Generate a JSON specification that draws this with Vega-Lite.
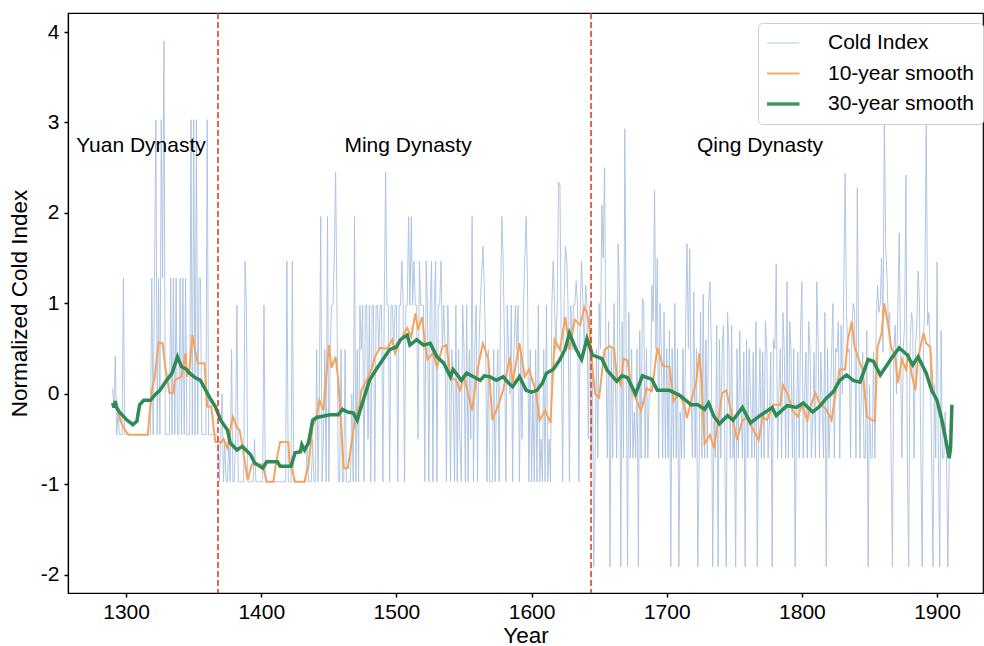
{
"$schema":"https://vega.github.io/schema/vega-lite/v6.json",
"width":915,"height":580,
"autosize":"none",
"padding":{"left":68,"top":13,"right":1,"bottom":53},
"background":"white",
"config":{"view":{"stroke":"black","strokeWidth":1.2},
"font":"Liberation Sans",
"axis":{"grid":false,"domainColor":"black","domainWidth":1.2,"tickColor":"black","tickSize":4,"tickWidth":1.5,"labelFontSize":21,"labelColor":"black","titleFontSize":22.5,"titleFontWeight":"normal","titleColor":"black","labelFont":"Liberation Sans","titleFont":"Liberation Sans"},
"legend":{"labelFont":"Liberation Sans","labelFontSize":21,"labelColor":"black"}},
"datasets":{
"raw":[
{"x":1290,"y":0.06},{"x":1291,"y":-0.15},{"x":1292,"y":0.42},{"x":1293,"y":-0.45},{"x":1294,"y":-0.2},{"x":1295,"y":-0.45},{"x":1296,"y":-0.45},{"x":1297,"y":-0.45},{"x":1298,"y":1.28},{"x":1299,"y":-0.45},
{"x":1300,"y":-0.45},{"x":1301,"y":-0.45},{"x":1302,"y":-0.45},{"x":1303,"y":-0.45},{"x":1304,"y":-0.45},{"x":1305,"y":-0.45},{"x":1306,"y":-0.45},{"x":1307,"y":-0.45},{"x":1308,"y":-0.45},{"x":1309,"y":-0.45},
{"x":1310,"y":-0.45},{"x":1311,"y":-0.45},{"x":1312,"y":-0.45},{"x":1313,"y":-0.45},{"x":1314,"y":-0.45},{"x":1315,"y":-0.45},{"x":1316,"y":-0.45},{"x":1317,"y":-0.45},{"x":1318,"y":-0.45},{"x":1319,"y":1.28},
{"x":1320,"y":-0.45},{"x":1321,"y":1.28},{"x":1322,"y":3.03},{"x":1323,"y":-0.45},{"x":1324,"y":1.28},{"x":1325,"y":-0.45},{"x":1326,"y":3.03},{"x":1327,"y":1.28},{"x":1328,"y":3.9},{"x":1329,"y":-0.45},
{"x":1330,"y":-0.45},{"x":1331,"y":-0.45},{"x":1332,"y":-0.45},{"x":1333,"y":1.28},{"x":1334,"y":-0.45},{"x":1335,"y":1.28},{"x":1336,"y":-0.45},{"x":1337,"y":1.28},{"x":1338,"y":-0.45},{"x":1339,"y":-0.45},
{"x":1340,"y":1.28},{"x":1341,"y":-0.45},{"x":1342,"y":1.28},{"x":1343,"y":-0.45},{"x":1344,"y":1.28},{"x":1345,"y":-0.45},{"x":1346,"y":-0.45},{"x":1347,"y":-0.45},{"x":1348,"y":3.03},{"x":1349,"y":-0.45},
{"x":1350,"y":3.03},{"x":1351,"y":-0.45},{"x":1352,"y":3.03},{"x":1353,"y":-0.45},{"x":1354,"y":1.28},{"x":1355,"y":1.28},{"x":1356,"y":-0.45},{"x":1357,"y":-0.45},{"x":1358,"y":-0.45},{"x":1359,"y":-0.45},
{"x":1360,"y":3.03},{"x":1361,"y":-0.45},{"x":1362,"y":-0.45},{"x":1363,"y":-0.45},{"x":1364,"y":-0.45},{"x":1365,"y":-0.45},{"x":1366,"y":-0.45},{"x":1367,"y":-0.45},
{"x":1368,"y":-0.5},{"x":1369,"y":-0.97},
{"x":1370,"y":-0.5},{"x":1371,"y":0.0},{"x":1372,"y":-0.97},{"x":1373,"y":-0.5},{"x":1374,"y":-0.97},{"x":1375,"y":-0.97},{"x":1376,"y":-0.5},{"x":1377,"y":-0.97},{"x":1378,"y":0.49},{"x":1379,"y":-0.97},
{"x":1380,"y":-0.97},{"x":1381,"y":-0.5},{"x":1382,"y":0.98},{"x":1383,"y":-0.97},{"x":1384,"y":-0.97},{"x":1385,"y":-0.97},{"x":1386,"y":-0.97},{"x":1387,"y":-0.97},{"x":1388,"y":1.47},{"x":1389,"y":0.98},
{"x":1390,"y":-0.97},{"x":1391,"y":-0.97},{"x":1392,"y":-0.97},{"x":1393,"y":-0.97},{"x":1394,"y":-0.97},{"x":1395,"y":-0.5},{"x":1396,"y":-0.97},{"x":1397,"y":-0.97},{"x":1398,"y":-0.97},{"x":1399,"y":-0.97},
{"x":1400,"y":-0.97},{"x":1401,"y":-0.97},{"x":1402,"y":0.98},{"x":1403,"y":-0.97},{"x":1404,"y":-0.97},{"x":1405,"y":-0.97},{"x":1406,"y":-0.97},{"x":1407,"y":-0.97},{"x":1408,"y":-0.97},{"x":1409,"y":-0.97},
{"x":1410,"y":-0.97},{"x":1411,"y":-0.97},{"x":1412,"y":-0.97},{"x":1413,"y":-0.97},{"x":1414,"y":-0.97},{"x":1415,"y":-0.97},{"x":1416,"y":-0.97},{"x":1417,"y":-0.97},{"x":1418,"y":-0.97},{"x":1419,"y":1.47},
{"x":1420,"y":-0.97},{"x":1421,"y":-0.97},{"x":1422,"y":-0.97},{"x":1423,"y":1.47},{"x":1424,"y":-0.97},{"x":1425,"y":-0.97},{"x":1426,"y":-0.97},{"x":1427,"y":-0.97},{"x":1428,"y":-0.97},{"x":1429,"y":-0.97},
{"x":1430,"y":-0.97},{"x":1431,"y":-0.97},{"x":1432,"y":-0.97},{"x":1433,"y":-0.97},{"x":1434,"y":-0.5},{"x":1435,"y":-0.97},{"x":1436,"y":-0.97},{"x":1437,"y":-0.97},{"x":1438,"y":-0.5},{"x":1439,"y":-0.97},
{"x":1440,"y":-0.97},{"x":1441,"y":0.49},{"x":1442,"y":-0.97},{"x":1443,"y":0.0},{"x":1444,"y":1.96},{"x":1445,"y":-0.97},{"x":1446,"y":-0.5},{"x":1447,"y":0.49},{"x":1448,"y":-0.97},{"x":1449,"y":1.96},
{"x":1450,"y":-0.97},{"x":1451,"y":0.49},{"x":1452,"y":0.98},{"x":1453,"y":0.98},{"x":1454,"y":1.47},{"x":1455,"y":2.45},{"x":1456,"y":0.98},{"x":1457,"y":-0.97},{"x":1458,"y":-0.97},{"x":1459,"y":0.49},
{"x":1460,"y":-0.97},{"x":1461,"y":-0.97},{"x":1462,"y":0.49},{"x":1463,"y":-0.97},{"x":1464,"y":-0.97},{"x":1465,"y":-0.97},{"x":1466,"y":-0.97},{"x":1467,"y":0.0},{"x":1468,"y":-0.97},{"x":1469,"y":1.96},
{"x":1470,"y":-0.97},{"x":1471,"y":0.49},{"x":1472,"y":-0.97},{"x":1473,"y":0.98},{"x":1474,"y":0.49},{"x":1475,"y":0.98},{"x":1476,"y":-0.97},{"x":1477,"y":0.98},{"x":1478,"y":0.98},{"x":1479,"y":-0.5},
{"x":1480,"y":0.98},{"x":1481,"y":-0.97},{"x":1482,"y":0.98},{"x":1483,"y":0.98},{"x":1484,"y":-0.97},{"x":1485,"y":0.98},{"x":1486,"y":0.98},{"x":1487,"y":0.49},{"x":1488,"y":0.98},{"x":1489,"y":0.98},
{"x":1490,"y":-0.97},{"x":1491,"y":0.98},{"x":1492,"y":2.45},{"x":1493,"y":0.98},{"x":1494,"y":0.98},{"x":1495,"y":-0.97},{"x":1496,"y":0.98},{"x":1497,"y":0.98},{"x":1498,"y":0.49},{"x":1499,"y":0.98},
{"x":1500,"y":0.98},{"x":1501,"y":-0.97},{"x":1502,"y":0.98},{"x":1503,"y":0.98},{"x":1504,"y":1.47},{"x":1505,"y":0.98},{"x":1506,"y":-0.97},{"x":1507,"y":0.98},{"x":1508,"y":0.98},{"x":1509,"y":1.96},
{"x":1510,"y":0.98},{"x":1511,"y":1.96},{"x":1512,"y":0.98},{"x":1513,"y":1.47},{"x":1514,"y":0.98},{"x":1515,"y":0.98},{"x":1516,"y":-0.5},{"x":1517,"y":1.47},{"x":1518,"y":0.98},{"x":1519,"y":0.98},
{"x":1520,"y":0.98},{"x":1521,"y":-0.97},{"x":1522,"y":1.47},{"x":1523,"y":0.98},{"x":1524,"y":-0.97},{"x":1525,"y":0.98},{"x":1526,"y":1.47},{"x":1527,"y":-0.97},{"x":1528,"y":0.98},{"x":1529,"y":1.47},
{"x":1530,"y":-0.97},{"x":1531,"y":0.98},{"x":1532,"y":0.98},{"x":1533,"y":1.47},{"x":1534,"y":0.49},{"x":1535,"y":0.98},{"x":1536,"y":0.49},{"x":1537,"y":-0.97},{"x":1538,"y":0.98},{"x":1539,"y":0.49},
{"x":1540,"y":-0.97},{"x":1541,"y":0.49},{"x":1542,"y":0.0},{"x":1543,"y":-0.97},{"x":1544,"y":0.98},{"x":1545,"y":-0.97},{"x":1546,"y":0.49},{"x":1547,"y":-0.5},{"x":1548,"y":-0.97},{"x":1549,"y":0.98},
{"x":1550,"y":0.49},{"x":1551,"y":-0.97},{"x":1552,"y":0.98},{"x":1553,"y":-0.97},{"x":1554,"y":0.49},{"x":1555,"y":-0.5},{"x":1556,"y":1.96},{"x":1557,"y":-0.97},{"x":1558,"y":0.49},{"x":1559,"y":0.98},
{"x":1560,"y":-0.97},{"x":1561,"y":0.49},{"x":1562,"y":0.98},{"x":1563,"y":1.3},{"x":1564,"y":1.63},{"x":1565,"y":1.2},{"x":1566,"y":0.49},{"x":1567,"y":-0.97},{"x":1568,"y":0.49},{"x":1569,"y":-0.97},
{"x":1570,"y":-0.97},{"x":1571,"y":-0.97},{"x":1572,"y":0.49},{"x":1573,"y":-0.97},{"x":1574,"y":0.0},{"x":1575,"y":0.49},{"x":1576,"y":-0.97},{"x":1577,"y":0.98},{"x":1578,"y":1.96},{"x":1579,"y":1.47},
{"x":1580,"y":0.49},{"x":1581,"y":-0.97},{"x":1582,"y":0.98},{"x":1583,"y":0.49},{"x":1584,"y":0.0},{"x":1585,"y":0.98},{"x":1586,"y":-0.97},{"x":1587,"y":0.49},{"x":1588,"y":0.98},{"x":1589,"y":0.49},
{"x":1590,"y":0.98},{"x":1591,"y":-0.97},{"x":1592,"y":0.49},{"x":1593,"y":-0.5},{"x":1594,"y":0.98},{"x":1595,"y":1.5},{"x":1596,"y":1.96},{"x":1597,"y":1.2},{"x":1598,"y":-0.97},{"x":1599,"y":0.49},
{"x":1600,"y":-0.97},{"x":1601,"y":0.0},{"x":1602,"y":-0.97},{"x":1603,"y":0.49},{"x":1604,"y":-0.97},{"x":1605,"y":0.98},{"x":1606,"y":-0.97},{"x":1607,"y":-0.5},{"x":1608,"y":-0.97},{"x":1609,"y":0.49},
{"x":1610,"y":-0.97},{"x":1611,"y":0.98},{"x":1612,"y":-0.97},{"x":1613,"y":-0.5},{"x":1614,"y":-0.97},{"x":1615,"y":0.98},{"x":1616,"y":1.47},{"x":1617,"y":0.98},{"x":1618,"y":0.49},{"x":1619,"y":0.98},
{"x":1620,"y":2.34},{"x":1621,"y":2.3},{"x":1622,"y":0.49},{"x":1623,"y":-0.97},{"x":1624,"y":0.98},{"x":1625,"y":1.63},{"x":1626,"y":1.5},{"x":1627,"y":0.98},{"x":1628,"y":-0.97},{"x":1629,"y":0.98},
{"x":1630,"y":0.49},{"x":1631,"y":0.98},{"x":1632,"y":0.98},{"x":1633,"y":1.25},{"x":1634,"y":0.98},{"x":1635,"y":-0.97},{"x":1636,"y":0.98},{"x":1637,"y":1.47},{"x":1638,"y":0.98},{"x":1639,"y":0.49},
{"x":1640,"y":1.2},{"x":1641,"y":0.98},{"x":1642,"y":-0.5},{"x":1643,"y":0.98},
{"x":1644,"y":-0.71},{"x":1645,"y":0.5},{"x":1646,"y":-1.91},{"x":1647,"y":-0.71},{"x":1648,"y":0.5},{"x":1649,"y":-0.71},
{"x":1650,"y":1.0},{"x":1651,"y":0.5},{"x":1652,"y":2.09},{"x":1653,"y":1.5},{"x":1654,"y":2.5},{"x":1655,"y":0.5},{"x":1656,"y":-0.71},{"x":1657,"y":0.8},{"x":1658,"y":-1.91},{"x":1659,"y":0.5},
{"x":1660,"y":-0.71},{"x":1661,"y":1.0},{"x":1662,"y":0.1},{"x":1663,"y":-0.71},{"x":1664,"y":1.66},{"x":1665,"y":1.2},{"x":1666,"y":-1.91},{"x":1667,"y":0.8},{"x":1668,"y":-0.71},{"x":1669,"y":2.93},
{"x":1670,"y":0.5},{"x":1671,"y":-1.91},{"x":1672,"y":0.9},{"x":1673,"y":-0.71},{"x":1674,"y":0.5},{"x":1675,"y":-0.71},{"x":1676,"y":-0.2},{"x":1677,"y":-0.71},{"x":1678,"y":0.5},{"x":1679,"y":-1.91},
{"x":1680,"y":0.7},{"x":1681,"y":-0.71},{"x":1682,"y":1.06},{"x":1683,"y":1.0},{"x":1684,"y":-0.71},{"x":1685,"y":0.5},{"x":1686,"y":-0.71},{"x":1687,"y":0.0},{"x":1688,"y":0.0},{"x":1689,"y":1.2},
{"x":1690,"y":0.8},{"x":1691,"y":2.25},{"x":1692,"y":0.5},{"x":1693,"y":1.5},{"x":1694,"y":-0.71},{"x":1695,"y":1.0},{"x":1696,"y":0.5},{"x":1697,"y":-0.71},{"x":1698,"y":0.9},{"x":1699,"y":-0.71},
{"x":1700,"y":0.5},{"x":1701,"y":-0.71},{"x":1702,"y":0.7},{"x":1703,"y":-1.91},{"x":1704,"y":0.5},{"x":1705,"y":-0.71},{"x":1706,"y":1.0},{"x":1707,"y":-0.71},{"x":1708,"y":0.5},{"x":1709,"y":-1.91},
{"x":1710,"y":-0.2},{"x":1711,"y":-0.71},{"x":1712,"y":0.5},{"x":1713,"y":-0.71},{"x":1714,"y":0.8},{"x":1715,"y":1.66},{"x":1716,"y":0.5},{"x":1717,"y":1.6},{"x":1718,"y":0.0},{"x":1719,"y":-0.71},
{"x":1720,"y":1.13},{"x":1721,"y":-0.71},{"x":1722,"y":0.5},{"x":1723,"y":-1.91},{"x":1724,"y":-0.71},{"x":1725,"y":0.9},{"x":1726,"y":-0.71},{"x":1727,"y":1.1},{"x":1728,"y":-0.71},{"x":1729,"y":0.6},
{"x":1730,"y":-0.71},{"x":1731,"y":1.0},{"x":1732,"y":1.24},{"x":1733,"y":0.5},{"x":1734,"y":-1.91},{"x":1735,"y":-0.3},{"x":1736,"y":-0.71},{"x":1737,"y":0.76},{"x":1738,"y":-1.91},{"x":1739,"y":0.6},
{"x":1740,"y":-0.71},{"x":1741,"y":0.5},{"x":1742,"y":0.76},{"x":1743,"y":-0.71},{"x":1744,"y":-1.91},{"x":1745,"y":0.9},{"x":1746,"y":0.5},{"x":1747,"y":-0.71},{"x":1748,"y":0.76},{"x":1749,"y":-0.71},
{"x":1750,"y":-0.3},{"x":1751,"y":-1.91},{"x":1752,"y":0.5},{"x":1753,"y":-0.71},{"x":1754,"y":0.7},{"x":1755,"y":-0.1},{"x":1756,"y":-0.71},{"x":1757,"y":0.46},{"x":1758,"y":-1.91},{"x":1759,"y":0.6},
{"x":1760,"y":-0.71},{"x":1761,"y":0.5},{"x":1762,"y":0.0},{"x":1763,"y":-0.71},{"x":1764,"y":0.46},{"x":1765,"y":-0.71},{"x":1766,"y":0.8},{"x":1767,"y":-1.91},{"x":1768,"y":-0.2},{"x":1769,"y":0.5},
{"x":1770,"y":-0.71},{"x":1771,"y":0.46},{"x":1772,"y":-0.71},{"x":1773,"y":0.8},{"x":1774,"y":0.5},{"x":1775,"y":-0.71},{"x":1776,"y":-0.3},{"x":1777,"y":0.46},{"x":1778,"y":-1.91},{"x":1779,"y":0.6},
{"x":1780,"y":0.5},{"x":1781,"y":1.43},{"x":1782,"y":-0.71},{"x":1783,"y":0.0},{"x":1784,"y":0.5},{"x":1785,"y":-0.71},{"x":1786,"y":0.9},{"x":1787,"y":0.46},{"x":1788,"y":-0.71},{"x":1789,"y":1.24},
{"x":1790,"y":-0.71},{"x":1791,"y":0.8},{"x":1792,"y":0.46},{"x":1793,"y":-0.71},{"x":1794,"y":0.5},{"x":1795,"y":-1.91},{"x":1796,"y":-0.2},{"x":1797,"y":0.46},{"x":1798,"y":-0.71},{"x":1799,"y":0.7},
{"x":1800,"y":1.24},{"x":1801,"y":-0.71},{"x":1802,"y":0.0},{"x":1803,"y":0.46},{"x":1804,"y":-0.71},{"x":1805,"y":0.8},{"x":1806,"y":0.5},{"x":1807,"y":-0.71},{"x":1808,"y":-0.3},{"x":1809,"y":0.46},
{"x":1810,"y":-0.71},{"x":1811,"y":1.24},{"x":1812,"y":0.6},{"x":1813,"y":-0.71},{"x":1814,"y":0.46},{"x":1815,"y":-0.1},{"x":1816,"y":-0.71},{"x":1817,"y":0.9},{"x":1818,"y":-1.91},{"x":1819,"y":0.5},
{"x":1820,"y":-0.71},{"x":1821,"y":-0.2},{"x":1822,"y":0.46},{"x":1823,"y":1.0},{"x":1824,"y":-0.71},{"x":1825,"y":0.5},{"x":1826,"y":0.46},{"x":1827,"y":0.8},{"x":1828,"y":-0.71},{"x":1829,"y":0.76},
{"x":1830,"y":0.0},{"x":1831,"y":1.2},{"x":1832,"y":2.44},{"x":1833,"y":0.9},{"x":1834,"y":0.46},{"x":1835,"y":0.5},{"x":1836,"y":-0.71},{"x":1837,"y":0.76},{"x":1838,"y":1.0},{"x":1839,"y":0.9},
{"x":1840,"y":-0.71},{"x":1841,"y":2.28},{"x":1842,"y":0.5},{"x":1843,"y":-0.71},{"x":1844,"y":0.0},{"x":1845,"y":0.46},{"x":1846,"y":-0.71},{"x":1847,"y":-0.71},{"x":1848,"y":0.7},{"x":1849,"y":-1.91},
{"x":1850,"y":0.1},{"x":1851,"y":-0.71},{"x":1852,"y":-0.71},{"x":1853,"y":0.46},{"x":1854,"y":-0.71},{"x":1855,"y":0.8},{"x":1856,"y":1.2},{"x":1857,"y":0.9},{"x":1858,"y":1.0},{"x":1859,"y":1.5},
{"x":1860,"y":0.46},{"x":1861,"y":3.1},{"x":1862,"y":1.64},{"x":1863,"y":1.3},{"x":1864,"y":0.76},{"x":1865,"y":0.9},{"x":1866,"y":-0.71},{"x":1867,"y":-1.91},{"x":1868,"y":0.5},{"x":1869,"y":0.76},
{"x":1870,"y":0.0},{"x":1871,"y":1.0},{"x":1872,"y":1.78},{"x":1873,"y":0.46},{"x":1874,"y":-0.71},{"x":1875,"y":0.5},{"x":1876,"y":0.76},{"x":1877,"y":2.42},{"x":1878,"y":-0.71},{"x":1879,"y":-1.91},
{"x":1880,"y":0.5},{"x":1881,"y":0.9},{"x":1882,"y":0.8},{"x":1883,"y":-0.71},{"x":1884,"y":0.5},{"x":1885,"y":0.76},{"x":1886,"y":1.36},{"x":1887,"y":1.0},{"x":1888,"y":-0.71},{"x":1889,"y":-1.91},
{"x":1890,"y":0.5},{"x":1891,"y":1.2},{"x":1892,"y":3.1},{"x":1893,"y":0.76},{"x":1894,"y":0.9},{"x":1895,"y":0.46},{"x":1896,"y":-0.71},{"x":1897,"y":-1.91},{"x":1898,"y":0.1},{"x":1899,"y":-0.71},
{"x":1900,"y":1.46},{"x":1901,"y":-0.71},{"x":1902,"y":-1.91},{"x":1903,"y":0.7},{"x":1904,"y":-0.71},{"x":1905,"y":-0.71},{"x":1906,"y":-0.2},{"x":1907,"y":-0.71},{"x":1908,"y":-1.91},{"x":1909,"y":-0.71}
],
"s10":[
{"x":1293,"y":-0.14},{"x":1296,"y":-0.3},{"x":1299,"y":-0.4},{"x":1302,"y":-0.45},{"x":1316,"y":-0.45},{"x":1319,"y":0.04},{"x":1321,"y":0.17},{"x":1324,"y":0.57},{"x":1327,"y":0.56},{"x":1329,"y":0.3},{"x":1332,"y":0.01},{"x":1335,"y":0.01},{"x":1336,"y":0.15},{"x":1338,"y":0.17},{"x":1341,"y":0.19},{"x":1344,"y":0.45},{"x":1345,"y":0.19},{"x":1347,"y":0.3},{"x":1349,"y":0.65},{"x":1351,"y":0.49},{"x":1353,"y":0.34},{"x":1358,"y":0.34},{"x":1360,"y":-0.14},{"x":1363,"y":-0.14},{"x":1366,"y":-0.53},{"x":1368,"y":-0.53},{"x":1370,"y":-0.54},{"x":1372,"y":-0.5},{"x":1375,"y":-0.6},{"x":1377,"y":-0.4},{"x":1379,"y":-0.25},{"x":1382,"y":-0.37},{"x":1384,"y":-0.4},{"x":1386,"y":-0.57},{"x":1390,"y":-0.95},{"x":1393,"y":-0.78},{"x":1401,"y":-0.78},{"x":1404,"y":-0.97},{"x":1409,"y":-0.97},{"x":1411,"y":-0.75},{"x":1414,"y":-0.53},{"x":1420,"y":-0.53},{"x":1421,"y":-0.75},{"x":1425,"y":-0.97},{"x":1432,"y":-0.97},{"x":1435,"y":-0.78},{"x":1438,"y":-0.36},{"x":1441,"y":-0.25},{"x":1443,"y":-0.07},{"x":1446,"y":-0.18},{"x":1450,"y":0.54},{"x":1452,"y":0.29},{"x":1455,"y":0.41},{"x":1457,"y":0.15},{"x":1461,"y":-0.82},{"x":1464,"y":-0.82},{"x":1467,"y":-0.53},{"x":1469,"y":-0.32},{"x":1473,"y":-0.1},{"x":1474,"y":0.04},{"x":1478,"y":0.15},{"x":1482,"y":0.29},{"x":1484,"y":0.41},{"x":1488,"y":0.51},{"x":1493,"y":0.5},{"x":1497,"y":0.6},{"x":1499,"y":0.45},{"x":1503,"y":0.6},{"x":1508,"y":0.73},{"x":1511,"y":0.63},{"x":1514,"y":0.89},{"x":1516,"y":0.71},{"x":1519,"y":0.85},{"x":1521,"y":0.56},{"x":1523,"y":0.38},{"x":1527,"y":0.45},{"x":1530,"y":0.3},{"x":1534,"y":0.52},{"x":1537,"y":0.54},{"x":1540,"y":0.19},{"x":1544,"y":0.15},{"x":1547,"y":0.04},{"x":1550,"y":0.19},{"x":1556,"y":-0.18},{"x":1560,"y":0.27},{"x":1564,"y":0.56},{"x":1568,"y":0.38},{"x":1571,"y":-0.29},{"x":1575,"y":-0.14},{"x":1579,"y":0.04},{"x":1584,"y":0.41},{"x":1586,"y":0.12},{"x":1591,"y":0.56},{"x":1595,"y":0.19},{"x":1598,"y":0.27},{"x":1603,"y":0.04},{"x":1606,"y":-0.29},{"x":1610,"y":-0.18},{"x":1614,"y":-0.32},{"x":1617,"y":0.6},{"x":1621,"y":0.49},{"x":1625,"y":0.85},{"x":1628,"y":0.49},{"x":1632,"y":0.82},{"x":1636,"y":0.76},{"x":1639,"y":0.96},{"x":1641,"y":0.9},{"x":1643,"y":0.7},{"x":1645,"y":0.3},{"x":1647,"y":0.0},{"x":1650,"y":-0.04},{"x":1654,"y":0.49},{"x":1658,"y":0.53},{"x":1661,"y":0.5},{"x":1663,"y":0.2},{"x":1666,"y":0.1},{"x":1668,"y":0.39},{"x":1671,"y":0.37},{"x":1674,"y":0.04},{"x":1678,"y":-0.08},{"x":1681,"y":-0.19},{"x":1685,"y":0.06},{"x":1689,"y":0.03},{"x":1693,"y":0.51},{"x":1697,"y":0.31},{"x":1702,"y":0.3},{"x":1705,"y":-0.08},{"x":1709,"y":0.0},{"x":1713,"y":-0.12},{"x":1715,"y":-0.27},{"x":1718,"y":-0.08},{"x":1722,"y":0.14},{"x":1724,"y":0.45},{"x":1726,"y":0.1},{"x":1728,"y":-0.55},{"x":1732,"y":-0.45},{"x":1735,"y":-0.6},{"x":1738,"y":-0.3},{"x":1741,"y":0.01},{"x":1744,"y":0.04},{"x":1748,"y":-0.21},{"x":1752,"y":-0.51},{"x":1756,"y":-0.29},{"x":1759,"y":-0.27},{"x":1762,"y":-0.34},{"x":1768,"y":-0.51},{"x":1771,"y":-0.25},{"x":1774,"y":-0.29},{"x":1779,"y":-0.12},{"x":1784,"y":-0.12},{"x":1786,"y":0.1},{"x":1790,"y":-0.02},{"x":1793,"y":-0.18},{"x":1797,"y":-0.25},{"x":1800,"y":-0.12},{"x":1804,"y":-0.29},{"x":1806,"y":-0.15},{"x":1810,"y":0.01},{"x":1813,"y":-0.1},{"x":1818,"y":-0.17},{"x":1822,"y":-0.29},{"x":1824,"y":-0.07},{"x":1828,"y":0.27},{"x":1832,"y":0.27},{"x":1834,"y":0.6},{"x":1837,"y":0.8},{"x":1839,"y":0.52},{"x":1843,"y":0.34},{"x":1845,"y":0.27},{"x":1848,"y":-0.25},{"x":1852,"y":-0.29},{"x":1854,"y":-0.3},{"x":1856,"y":0.52},{"x":1859,"y":0.67},{"x":1861,"y":1.0},{"x":1864,"y":0.74},{"x":1866,"y":0.52},{"x":1869,"y":0.41},{"x":1871,"y":0.12},{"x":1874,"y":0.38},{"x":1877,"y":0.27},{"x":1879,"y":0.45},{"x":1881,"y":0.23},{"x":1884,"y":0.04},{"x":1886,"y":0.41},{"x":1890,"y":0.67},{"x":1892,"y":0.56},{"x":1895,"y":0.52},{"x":1897,"y":0.01},{"x":1902,"y":-0.15},{"x":1906,"y":-0.4}
],
"s30":[
{"x":1290,"y":-0.1},{"x":1291,"y":-0.15},{"x":1292,"y":-0.08},{"x":1293,"y":-0.15},{"x":1295,"y":-0.2},{"x":1300,"y":-0.28},{"x":1305,"y":-0.34},{"x":1308,"y":-0.3},{"x":1310,"y":-0.12},{"x":1313,"y":-0.07},{"x":1318,"y":-0.07},{"x":1322,"y":0.0},{"x":1325,"y":0.04},{"x":1330,"y":0.15},{"x":1334,"y":0.23},{"x":1338,"y":0.41},{"x":1341,"y":0.3},{"x":1344,"y":0.28},{"x":1347,"y":0.23},{"x":1351,"y":0.18},{"x":1355,"y":0.15},{"x":1360,"y":0.01},{"x":1363,"y":-0.07},{"x":1366,"y":-0.14},{"x":1370,"y":-0.29},{"x":1375,"y":-0.4},{"x":1377,"y":-0.54},{"x":1382,"y":-0.62},{"x":1386,"y":-0.58},{"x":1392,"y":-0.67},{"x":1395,"y":-0.76},{"x":1401,"y":-0.82},{"x":1404,"y":-0.75},{"x":1412,"y":-0.75},{"x":1414,"y":-0.8},{"x":1422,"y":-0.8},{"x":1425,"y":-0.65},{"x":1429,"y":-0.64},{"x":1430,"y":-0.56},{"x":1432,"y":-0.62},{"x":1435,"y":-0.54},{"x":1438,"y":-0.29},{"x":1441,"y":-0.26},{"x":1451,"y":-0.23},{"x":1457,"y":-0.23},{"x":1460,"y":-0.17},{"x":1464,"y":-0.2},{"x":1468,"y":-0.21},{"x":1471,"y":-0.29},{"x":1474,"y":-0.14},{"x":1480,"y":0.15},{"x":1485,"y":0.27},{"x":1490,"y":0.38},{"x":1495,"y":0.49},{"x":1500,"y":0.52},{"x":1503,"y":0.6},{"x":1508,"y":0.65},{"x":1510,"y":0.54},{"x":1515,"y":0.6},{"x":1520,"y":0.54},{"x":1525,"y":0.56},{"x":1530,"y":0.41},{"x":1535,"y":0.34},{"x":1540,"y":0.19},{"x":1542,"y":0.27},{"x":1548,"y":0.15},{"x":1552,"y":0.23},{"x":1557,"y":0.19},{"x":1562,"y":0.15},{"x":1565,"y":0.2},{"x":1569,"y":0.19},{"x":1574,"y":0.15},{"x":1579,"y":0.19},{"x":1583,"y":0.12},{"x":1586,"y":0.08},{"x":1591,"y":0.19},{"x":1596,"y":0.04},{"x":1600,"y":0.02},{"x":1604,"y":0.04},{"x":1608,"y":0.12},{"x":1611,"y":0.23},{"x":1616,"y":0.27},{"x":1621,"y":0.38},{"x":1625,"y":0.5},{"x":1628,"y":0.67},{"x":1633,"y":0.49},{"x":1637,"y":0.38},{"x":1641,"y":0.61},{"x":1645,"y":0.43},{"x":1652,"y":0.39},{"x":1656,"y":0.26},{"x":1663,"y":0.14},{"x":1667,"y":0.2},{"x":1671,"y":0.18},{"x":1677,"y":0.0},{"x":1682,"y":0.2},{"x":1689,"y":0.16},{"x":1693,"y":0.04},{"x":1702,"y":0.04},{"x":1710,"y":-0.02},{"x":1718,"y":-0.12},{"x":1723,"y":-0.12},{"x":1728,"y":-0.17},{"x":1731,"y":-0.1},{"x":1735,"y":-0.25},{"x":1739,"y":-0.33},{"x":1745,"y":-0.24},{"x":1749,"y":-0.29},{"x":1756,"y":-0.15},{"x":1762,"y":-0.32},{"x":1769,"y":-0.24},{"x":1778,"y":-0.15},{"x":1781,"y":-0.24},{"x":1789,"y":-0.13},{"x":1796,"y":-0.15},{"x":1801,"y":-0.1},{"x":1808,"y":-0.2},{"x":1813,"y":-0.14},{"x":1818,"y":-0.05},{"x":1823,"y":0.02},{"x":1828,"y":0.15},{"x":1833,"y":0.21},{"x":1838,"y":0.15},{"x":1843,"y":0.13},{"x":1849,"y":0.38},{"x":1853,"y":0.36},{"x":1858,"y":0.21},{"x":1863,"y":0.32},{"x":1867,"y":0.41},{"x":1872,"y":0.51},{"x":1878,"y":0.43},{"x":1882,"y":0.32},{"x":1886,"y":0.41},{"x":1892,"y":0.23},{"x":1896,"y":0.04},{"x":1900,"y":-0.07},{"x":1904,"y":-0.32},{"x":1907,"y":-0.55},{"x":1909,"y":-0.71},{"x":1910,"y":-0.6},{"x":1911,"y":-0.12}
],
"dyn":[{"x":1368},{"x":1644}],
"lab":[{"x":1311,"y":2.74,"t":"Yuan Dynasty"},{"x":1508.6,"y":2.74,"t":"Ming Dynasty"},{"x":1769,"y":2.74,"t":"Qing Dynasty"}]
},
"encoding":{
"x":{"field":"x","type":"quantitative","scale":{"domain":[1257,1934],"nice":false,"zero":false},"axis":{"title":"Year","values":[1300,1400,1500,1600,1700,1800,1900],"format":"d","labelPadding":4,"titlePadding":2}},
"y":{"field":"y","type":"quantitative","scale":{"domain":[-2.2,4.21],"nice":false,"zero":false},"axis":{"title":"Normalized Cold Index","values":[-2,-1,0,1,2,3,4],"format":"d","labelExpr":"replace(datum.label,'\u2212','-')","labelPadding":5,"titlePadding":9}}
},
"layer":[
{"data":{"name":"raw"},"mark":{"type":"line","opacity":0.9,"strokeWidth":1,"clip":true},
"encoding":{"color":{"datum":"Cold Index","type":"nominal","scale":{"domain":["Cold Index","10-year smooth","30-year smooth"],"range":["#aac1e0","#f5a35e","#2e8b57"]},"legend":{"title":null,"orient":"none","legendX":690,"legendY":10,"fillColor":"white","strokeColor":"#d0d0d0","cornerRadius":4,"padding":9,"symbolType":"stroke","symbolSize":1936,"clipHeight":22,"rowPadding":8.5,"labelOffset":40,"symbolStrokeWidth":{"expr":"datum.value === 'Cold Index' ? 1.2 : datum.value === '10-year smooth' ? 2.2 : 3.6"}}}}},
{"data":{"name":"s10"},"mark":{"type":"line","strokeWidth":2,"clip":true},
"encoding":{"color":{"datum":"10-year smooth","type":"nominal"}}},
{"data":{"name":"s30"},"mark":{"type":"line","strokeWidth":3.5,"clip":true},
"encoding":{"color":{"datum":"30-year smooth","type":"nominal"}}},
{"data":{"name":"dyn"},"mark":{"type":"rule","color":"#d9381e","strokeWidth":1.5,"strokeDash":[6,3]},"encoding":{"x":{"field":"x","type":"quantitative"},"y":null}},
{"data":{"name":"lab"},"mark":{"type":"text","fontSize":21,"font":"Liberation Sans","color":"black","align":"center","baseline":"middle"},"encoding":{"text":{"field":"t","type":"nominal"}}}
]
}
